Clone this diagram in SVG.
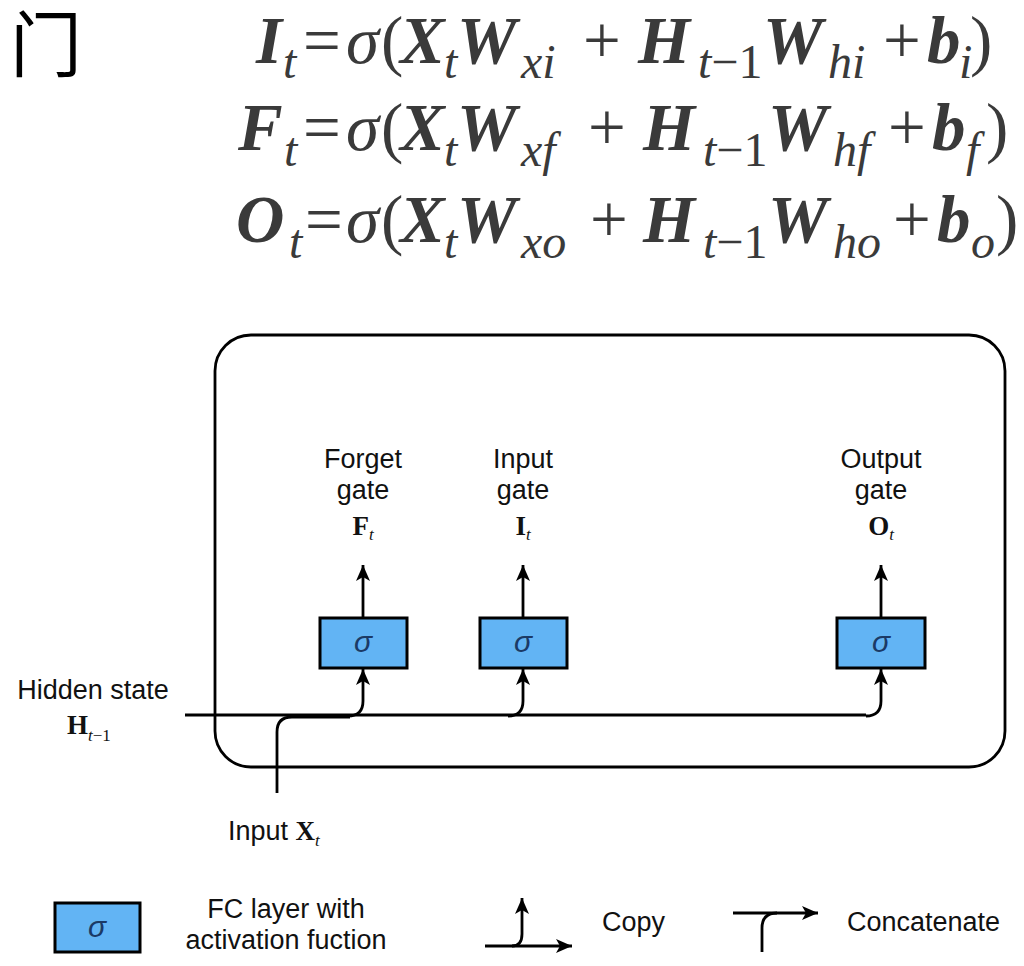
<svg xmlns="http://www.w3.org/2000/svg" width="1024" height="966" viewBox="0 0 1024 966">
<defs>
<style>
.eq{font-family:"Liberation Serif","DejaVu Serif",serif;fill:#3a3a3a}
.bi{font-weight:bold;font-style:italic;font-size:67px}
.it{font-style:italic;font-size:48px}
.rm{font-size:67px}
.sg{font-style:italic;font-size:67px}
.rs{font-size:48px}
.lbl{font-family:"Liberation Sans",Arial,sans-serif;font-size:27px;fill:#111}
.mb{font-family:"Liberation Serif","DejaVu Serif",serif;font-weight:bold;font-size:27px;fill:#111}
.ms{font-family:"Liberation Serif","DejaVu Serif",serif;font-style:italic;font-size:17px;fill:#111}
.msr{font-family:"Liberation Serif","DejaVu Serif",serif;font-size:17px;fill:#111}
.box{fill:#62b4f4;stroke:#000;stroke-width:3}
.sig{font-family:"Liberation Sans",Arial,sans-serif;font-style:italic;font-size:30px;fill:#1b3a66}
.wire{fill:none;stroke:#000;stroke-width:2.8}
.arr{fill:none;stroke:#000;stroke-width:2.8;marker-end:url(#ah)}
</style>
<marker id="ah" markerUnits="userSpaceOnUse" markerWidth="20" markerHeight="18" refX="17" refY="9" orient="auto">
<path d="M17,9 L1,2 L5,9 L1,16 Z" fill="#000"/>
</marker>
</defs>
<rect width="1024" height="966" fill="#fff"/>

<g id="title">
<text x="10" y="71" style="font-family:'Noto Sans CJK SC','Noto Sans CJK JP',sans-serif;font-size:72px;fill:#000">门</text>
</g>

<g id="equations" class="eq">
<text>
<tspan class="bi" x="256" y="63">I</tspan><tspan class="it" x="283" y="78">t</tspan><tspan class="rm" x="303" y="63">=</tspan><tspan class="sg" x="346" y="63">σ</tspan><tspan class="rm" x="381" y="63">(</tspan><tspan class="bi" x="400" y="63">X</tspan><tspan class="it" x="444" y="78">t</tspan><tspan class="bi" x="457" y="63">W</tspan><tspan class="it" x="521" y="78">xi</tspan><tspan class="rm" x="583" y="63">+</tspan><tspan class="bi" x="638" y="63">H</tspan><tspan class="it" x="698" y="78">t</tspan><tspan class="rs">−1</tspan><tspan class="bi" x="763" y="63">W</tspan><tspan class="it" x="828" y="78">hi</tspan><tspan class="rm" x="883" y="63">+</tspan><tspan class="bi" x="927" y="63">b</tspan><tspan class="it" x="959" y="78">i</tspan><tspan class="rm" x="970" y="63">)</tspan>
</text>
<text>
<tspan class="bi" x="238" y="150">F</tspan><tspan class="it" x="284" y="166">t</tspan><tspan class="rm" x="303" y="150">=</tspan><tspan class="sg" x="346" y="150">σ</tspan><tspan class="rm" x="381" y="150">(</tspan><tspan class="bi" x="400" y="150">X</tspan><tspan class="it" x="444" y="166">t</tspan><tspan class="bi" x="457" y="150">W</tspan><tspan class="it" x="521" y="166">xf</tspan><tspan class="rm" x="588" y="150">+</tspan><tspan class="bi" x="643" y="150">H</tspan><tspan class="it" x="703" y="166">t</tspan><tspan class="rs">−1</tspan><tspan class="bi" x="768" y="150">W</tspan><tspan class="it" x="833" y="166">hf</tspan><tspan class="rm" x="888" y="150">+</tspan><tspan class="bi" x="932" y="150">b</tspan><tspan class="it" x="966" y="166">f</tspan><tspan class="rm" x="986" y="150">)</tspan>
</text>
<text>
<tspan class="bi" x="236" y="242">O</tspan><tspan class="it" x="289" y="258">t</tspan><tspan class="rm" x="305" y="242">=</tspan><tspan class="sg" x="346" y="242">σ</tspan><tspan class="rm" x="381" y="242">(</tspan><tspan class="bi" x="400" y="242">X</tspan><tspan class="it" x="444" y="258">t</tspan><tspan class="bi" x="457" y="242">W</tspan><tspan class="it" x="521" y="258">xo</tspan><tspan class="rm" x="590" y="242">+</tspan><tspan class="bi" x="643" y="242">H</tspan><tspan class="it" x="703" y="258">t</tspan><tspan class="rs">−1</tspan><tspan class="bi" x="768" y="242">W</tspan><tspan class="it" x="833" y="258">ho</tspan><tspan class="rm" x="893" y="242">+</tspan><tspan class="bi" x="937" y="242">b</tspan><tspan class="it" x="971" y="258">o</tspan><tspan class="rm" x="996" y="242">)</tspan>
</text>
</g>

<g id="cell">
<rect x="215" y="335" width="790" height="432" rx="36" ry="36" fill="none" stroke="#000" stroke-width="2.8"/>
</g>

<g id="forget-gate">
<rect class="box" x="320" y="618" width="87" height="50"/>
<text class="sig" x="363" y="652" text-anchor="middle">σ</text>
<text class="lbl" x="363" y="468" text-anchor="middle">Forget</text>
<text class="lbl" x="363" y="499" text-anchor="middle">gate</text>
<text x="363" y="535" text-anchor="middle"><tspan class="mb">F</tspan><tspan class="ms" dy="5">t</tspan></text>
</g>

<g id="input-gate">
<rect class="box" x="480" y="618" width="87" height="50"/>
<text class="sig" x="523" y="652" text-anchor="middle">σ</text>
<text class="lbl" x="523" y="468" text-anchor="middle">Input</text>
<text class="lbl" x="523" y="499" text-anchor="middle">gate</text>
<text x="523" y="535" text-anchor="middle"><tspan class="mb">I</tspan><tspan class="ms" dy="5">t</tspan></text>
</g>

<g id="output-gate">
<rect class="box" x="837" y="618" width="88" height="50"/>
<text class="sig" x="881" y="652" text-anchor="middle">σ</text>
<text class="lbl" x="881" y="468" text-anchor="middle">Output</text>
<text class="lbl" x="881" y="499" text-anchor="middle">gate</text>
<text x="881" y="535" text-anchor="middle"><tspan class="mb">O</tspan><tspan class="ms" dy="5">t</tspan></text>
</g>

<g id="hidden-state">
<text class="lbl" x="93" y="699" text-anchor="middle">Hidden state</text>
<text x="67" y="734"><tspan class="mb">H</tspan><tspan class="ms" dy="7">t</tspan><tspan class="msr">−1</tspan></text>
</g>

<g id="input-x">
<text x="228" y="840"><tspan class="lbl">Input </tspan><tspan class="mb">X</tspan><tspan class="ms" dy="6">t</tspan></text>
</g>

<g id="connectors">
<path class="arr" d="M363,618 V565"/>
<path class="arr" d="M523,618 V565"/>
<path class="arr" d="M881,618 V565"/>
<path class="wire" d="M185,715 H866"/>
<path class="arr" d="M866,716 Q881,716 881,701 V669"/>
<path class="wire" d="M277,793 V732 Q277,717 292,717 H350"/>
<path class="arr" d="M348,716 Q363,716 363,701 V669"/>
<path class="arr" d="M508,716 Q523,716 523,701 V669"/>
</g>

<g id="legend">
<rect class="box" x="55" y="903" width="85" height="49"/>
<text class="sig" x="97" y="937" text-anchor="middle">σ</text>
<text class="lbl" x="286" y="918" text-anchor="middle">FC layer with</text>
<text class="lbl" x="286" y="949" text-anchor="middle">activation fuction</text>
<path class="arr" d="M485,946 H572"/>
<path class="arr" d="M512,946 Q522,946 522,934 V898"/>
<text class="lbl" x="602" y="931">Copy</text>
<path class="arr" d="M733,913 H818"/>
<path class="wire" d="M762,952 V928 Q762,913 777,913"/>
<text class="lbl" x="847" y="931">Concatenate</text>
</g>
</svg>
